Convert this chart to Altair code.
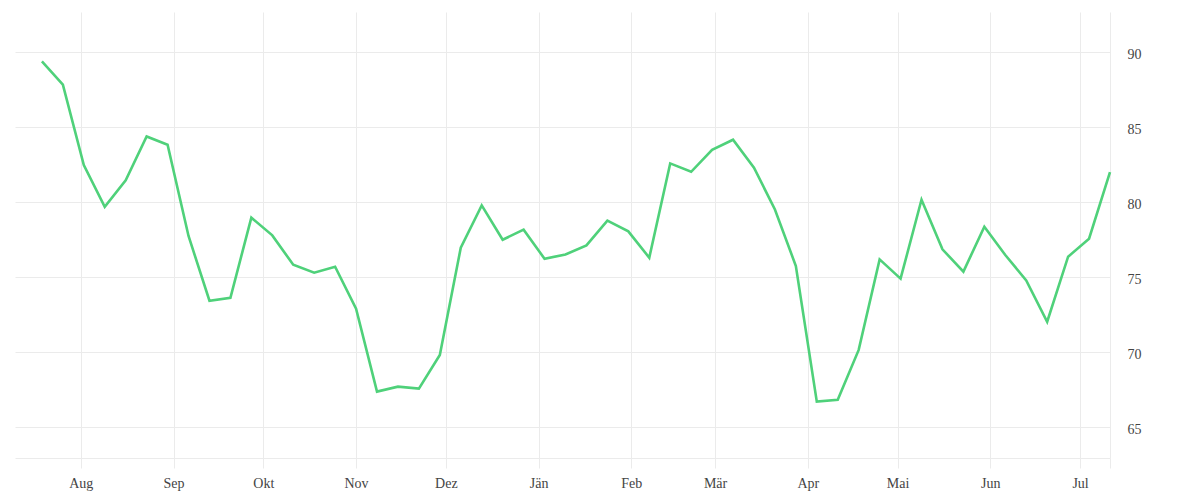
import altair as alt
import pandas as pd

# weekly dates (UTC)
DATES = [
    "2022-07-19", "2022-07-26", "2022-08-02", "2022-08-09", "2022-08-16", "2022-08-23",
    "2022-08-30", "2022-09-06", "2022-09-13", "2022-09-20", "2022-09-27", "2022-10-04",
    "2022-10-11", "2022-10-18", "2022-10-25", "2022-11-01", "2022-11-08", "2022-11-15",
    "2022-11-22", "2022-11-29", "2022-12-06", "2022-12-13", "2022-12-20", "2022-12-27",
    "2023-01-03", "2023-01-10", "2023-01-17", "2023-01-24", "2023-01-31", "2023-02-07",
    "2023-02-14", "2023-02-21", "2023-02-28", "2023-03-07", "2023-03-14", "2023-03-21",
    "2023-03-28", "2023-04-04", "2023-04-11", "2023-04-18", "2023-04-25", "2023-05-02",
    "2023-05-09", "2023-05-16", "2023-05-23", "2023-05-30", "2023-06-06", "2023-06-13",
    "2023-06-20", "2023-06-27", "2023-07-04", "2023-07-11",
]

VALUES = [
    89.4, 87.85, 82.49, 79.71, 81.47, 84.4, 83.84, 77.76, 73.44, 73.64,
    78.98, 77.8, 75.84, 75.31, 75.71, 72.91, 67.38, 67.71, 67.58, 69.82,
    76.98, 79.8, 77.51, 78.18, 76.24, 76.53, 77.13, 78.78, 78.07, 76.31,
    82.6, 82.04, 83.51, 84.18, 82.31, 79.53, 75.76, 66.71, 66.84, 70.16,
    76.2, 74.91, 80.18, 76.87, 75.38, 78.38, 76.49, 74.8, 72.04, 76.38,
    77.58, 82.02,
]

MONTH_LABELS = ["Jän", "Feb", "Mär", "Apr", "Mai", "Jun", "Jul", "Aug", "Sep", "Okt", "Nov", "Dez"]

# month ticks (year, month) shown on the x axis
MONTH_TICKS = [(2022, 8), (2022, 9), (2022, 10), (2022, 11), (2022, 12),
               (2023, 1), (2023, 2), (2023, 3), (2023, 4), (2023, 5), (2023, 6), (2023, 7)]

Y_TICKS = [65, 70, 75, 80, 85, 90]

df = pd.DataFrame({"date": DATES, "value": VALUES})

tick_values = [alt.DateTime(year=y, month=m, date=1, utc=True) for y, m in MONTH_TICKS]
tick_values.append(alt.DateTime(year=2023, month=7, date=11, utc=True))

month_arr = "[" + ",".join("'" + m + "'" for m in MONTH_LABELS) + "]"
label_expr = f"utcdate(datum.value) != 1 ? '' : {month_arr}[utcmonth(datum.value)]"

FONT = "Liberation Serif"
GRID = "#ebebeb"

chart = alt.Chart(df).mark_line(
    color="#4fd17a", strokeWidth=2.6, strokeJoin="miter"
).encode(
    x=alt.X(
        "date:T",
        scale=alt.Scale(
            type="utc",
            domain=[alt.DateTime(year=2022, month=7, date=10, utc=True),
                    alt.DateTime(year=2023, month=7, date=11, utc=True)],
            nice=False,
        ),
        axis=alt.Axis(
            title=None,
            values=tick_values,
            labelExpr=label_expr,
            grid=True,
            gridColor=GRID,
            domain=True,
            domainColor=GRID,
            ticks=True,
            tickColor=GRID,
            tickSize=10,
            labelPadding=8,
            labelFont=FONT,
            labelFontSize=14,
            labelColor="#444444",
        ),
    ),
    y=alt.Y(
        "value:Q",
        scale=alt.Scale(domain=[62.95, 92.7], nice=False, zero=False),
        axis=alt.Axis(
            title=None,
            orient="right",
            values=Y_TICKS,
            grid=True,
            gridColor=GRID,
            domain=False,
            ticks=False,
            tickSize=0,
            labelPadding=17,
            labelOffset=2,
            labelAlign="left",
            labelFont=FONT,
            labelFontSize=14,
            labelColor="#444444",
        ),
    ),
).properties(
    width=1095,
    height=446,
    autosize=alt.AutoSizeParams(type="none"),
    padding={"left": 7, "top": 4, "right": 60, "bottom": 40},
).configure_view(stroke=None)

chart.save("out.html", embed_options={"renderer": "svg", "actions": False})
